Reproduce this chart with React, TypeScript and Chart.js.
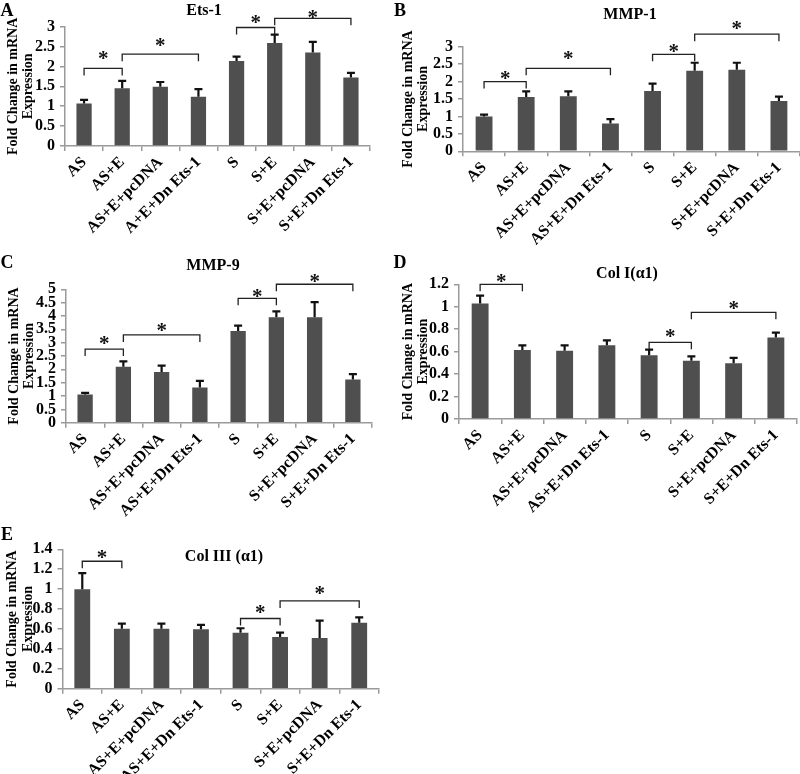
import React, { useEffect, useRef } from 'react';
import { Chart, registerables } from 'chart.js';

Chart.register(...registerables);

// ---------- data ----------
const CATEGORIES_A = ['AS', 'AS+E', 'AS+E+pcDNA', 'A+E+Dn Ets-1', 'S', 'S+E', 'S+E+pcDNA', 'S+E+Dn Ets-1'];
const CATEGORIES = ['AS', 'AS+E', 'AS+E+pcDNA', 'AS+E+Dn Ets-1', 'S', 'S+E', 'S+E+pcDNA', 'S+E+Dn Ets-1'];
const Y_TITLE = ['Fold Change in mRNA', 'Expression'];

const ETS1_MEAN = [1.07, 1.45, 1.49, 1.24, 2.14, 2.59, 2.35, 1.72];
const ETS1_SEM = [0.09, 0.19, 0.12, 0.19, 0.11, 0.21, 0.27, 0.12];
const ETS1_TICKS = [0, 0.5, 1, 1.5, 2, 2.5, 3];
// [from, to, bracket level, star level]
const ETS1_SIG = [[0, 1, 1.95, 2.29], [1, 3, 2.31, 2.61], [4, 5, 2.98, 3.19], [5, 7, 3.21, 3.32]];

const MMP1_MEAN = [1.0, 1.56, 1.58, 0.8, 1.73, 2.31, 2.34, 1.44];
const MMP1_SEM = [0.05, 0.16, 0.14, 0.12, 0.21, 0.23, 0.2, 0.13];
const MMP1_TICKS = [0, 0.5, 1, 1.5, 2, 2.5, 3];
const MMP1_SIG = [[0, 1, 2.0, 2.19], [1, 3, 2.38, 2.76], [4, 5, 2.78, 2.95], [5, 7, 3.36, 3.62]];

const MMP9_MEAN = [1.06, 2.1, 1.9, 1.32, 3.44, 3.95, 3.95, 1.62];
const MMP9_SEM = [0.06, 0.2, 0.24, 0.25, 0.2, 0.22, 0.57, 0.2];
const MMP9_TICKS = [0, 0.5, 1, 1.5, 2, 2.5, 3, 3.5, 4, 4.5, 5];
const MMP9_SIG = [[0, 1, 2.76, 3.1], [1, 3, 3.29, 3.57], [4, 5, 4.66, 4.87], [5, 7, 5.19, 5.42]];

const COL1_MEAN = [1.03, 0.615, 0.608, 0.656, 0.567, 0.52, 0.497, 0.725];
const COL1_SEM = [0.07, 0.041, 0.048, 0.044, 0.051, 0.038, 0.047, 0.045];
const COL1_TICKS = [0, 0.2, 0.4, 0.6, 0.8, 1, 1.2];
const COL1_SIG = [[0, 1, 1.2, 1.255], [4, 5, 0.683, 0.763], [5, 7, 0.95, 1.015]];

const COL3_MEAN = [1.0, 0.603, 0.603, 0.597, 0.563, 0.52, 0.51, 0.663];
const COL3_SEM = [0.16, 0.05, 0.05, 0.043, 0.044, 0.043, 0.173, 0.054];
const COL3_TICKS = [0, 0.2, 0.4, 0.6, 0.8, 1, 1.2, 1.4];
const COL3_SIG = [[0, 1, 1.28, 1.35], [4, 5, 0.705, 0.8], [5, 7, 0.882, 0.996]];

// ---------- layout (page pixels) ----------
const FONT = "'Liberation Serif', 'Times New Roman', serif";

type PanelCfg = {
  letter: string; title: string;
  cats: string[]; mean: number[]; sem: number[]; ticks: number[]; sig: number[][];
  canvas: { left: number; top: number; w: number; h: number };
  area: { l: number; t: number; r: number; b: number };
  titlePos: [number, number]; letterPos: [number, number]; yTitlePad: number;
};

const PANELS: PanelCfg[] = [
  {
    letter: 'A', title: 'Ets-1', cats: CATEGORIES_A, mean: ETS1_MEAN, sem: ETS1_SEM, ticks: ETS1_TICKS, sig: ETS1_SIG,
    canvas: { left: 0, top: 0, w: 395, h: 255 }, area: { l: 65, t: 26.7, r: 370, b: 146 },
    titlePos: [204, 10], letterPos: [7, 10], yTitlePad: 5.5,
  },
  {
    letter: 'B', title: 'MMP-1', cats: CATEGORIES, mean: MMP1_MEAN, sem: MMP1_SEM, ticks: MMP1_TICKS, sig: MMP1_SIG,
    canvas: { left: 395, top: 0, w: 405, h: 255 }, area: { l: 463, t: 46.7, r: 800, b: 151.3 },
    titlePos: [630, 14], letterPos: [400, 10], yTitlePad: 5.5,
  },
  {
    letter: 'C', title: 'MMP-9', cats: CATEGORIES, mean: MMP9_MEAN, sem: MMP9_SEM, ticks: MMP9_TICKS, sig: MMP9_SIG,
    canvas: { left: 0, top: 255, w: 395, h: 265 }, area: { l: 66, t: 289.3, r: 372, b: 422.7 },
    titlePos: [213, 265], letterPos: [7, 262], yTitlePad: 6.5,
  },
  {
    letter: 'D', title: 'Col I(\u03b11)', cats: CATEGORIES, mean: COL1_MEAN, sem: COL1_SEM, ticks: COL1_TICKS, sig: COL1_SIG,
    canvas: { left: 395, top: 255, w: 405, h: 265 }, area: { l: 459, t: 284.3, r: 797, b: 419 },
    titlePos: [627, 273], letterPos: [400, 262], yTitlePad: 5.5,
  },
  {
    letter: 'E', title: 'Col III (\u03b11)', cats: CATEGORIES, mean: COL3_MEAN, sem: COL3_SEM, ticks: COL3_TICKS, sig: COL3_SIG,
    canvas: { left: 0, top: 520, w: 395, h: 254 }, area: { l: 62.5, t: 549.3, r: 379, b: 688.7 },
    titlePos: [224, 556], letterPos: [7, 534], yTitlePad: 5,
  },
];

function Panel({ p }: { p: PanelCfg }) {
  const ref = useRef<HTMLCanvasElement>(null);
  useEffect(() => {
    const c = ref.current!;
    const { canvas, area } = p;
    const annot = {
      id: 'annot' + p.letter,
      afterDatasetsDraw(chart: any) {
        const ctx = chart.ctx;
        const meta = chart.getDatasetMeta(0);
        const xs = chart.scales.x;
        const ys = chart.scales.y;
        ctx.save();
        ctx.strokeStyle = '#111';
        ctx.lineWidth = 2.2;
        meta.data.forEach((el: any, i: number) => {
          const base = ys.getPixelForValue(p.mean[i]);
          const top = ys.getPixelForValue(p.mean[i] + p.sem[i]);
          ctx.beginPath();
          ctx.moveTo(el.x, base);
          ctx.lineTo(el.x, top);
          ctx.moveTo(el.x - 4, top);
          ctx.lineTo(el.x + 4, top);
          ctx.stroke();
        });
        ctx.lineWidth = 1.3;
        ctx.strokeStyle = '#222';
        ctx.fillStyle = '#111';
        ctx.font = `bold 21px ${FONT}`;
        ctx.textAlign = 'center';
        ctx.textBaseline = 'alphabetic';
        p.sig.forEach(([a, b, ly, sy]) => {
          const x1 = xs.getPixelForValue(a);
          const x2 = xs.getPixelForValue(b);
          const yy = ys.getPixelForValue(ly);
          ctx.beginPath();
          ctx.moveTo(x1, yy + 7);
          ctx.lineTo(x1, yy);
          ctx.lineTo(x2, yy);
          ctx.lineTo(x2, yy + 7);
          ctx.stroke();
          ctx.fillText('*', (x1 + x2) / 2, ys.getPixelForValue(sy) + 10);
        });
        ctx.restore();
      },
    };
    const axisColor = '#9a9a9a';
    const chart = new Chart(c, {
      type: 'bar',
      data: {
        labels: p.cats,
        datasets: [{ data: p.mean, backgroundColor: '#4f4f4f', borderWidth: 0, barPercentage: 0.4, categoryPercentage: 1 }],
      },
      plugins: [annot],
      options: {
        responsive: false,
        animation: false,
        layout: { padding: { top: area.t - canvas.top, right: canvas.left + canvas.w - area.r, left: 0, bottom: 0 } },
        plugins: { legend: { display: false }, tooltip: { enabled: false }, title: { display: false } },
        scales: {
          x: {
            grid: { display: true, drawOnChartArea: false, drawTicks: true, tickLength: 5, color: axisColor, lineWidth: 1.5, offset: true },
            border: { display: true, color: axisColor, width: 1.5 },
            ticks: {
              autoSkip: false, maxRotation: 45, minRotation: 45, color: '#000', padding: 2,
              font: { family: FONT, weight: 'bold', size: 16 },
            },
            afterFit: (s: any) => { s.height = canvas.top + canvas.h - area.b; },
          },
          y: {
            min: 0,
            max: p.ticks[p.ticks.length - 1],
            afterBuildTicks: (s: any) => { s.ticks = p.ticks.map((v) => ({ value: v })); },
            grid: { display: true, drawOnChartArea: false, drawTicks: true, tickLength: 5, color: axisColor, lineWidth: 1.5 },
            border: { display: true, color: axisColor, width: 1.5 },
            ticks: {
              autoSkip: false, color: '#000', padding: 5,
              font: { family: FONT, weight: 'bold', size: 16, lineHeight: 1 },
              callback: (v: any) => String(Number(Number(v).toFixed(2))),
            },
            title: {
              display: true, text: Y_TITLE, color: '#000',
              font: { family: FONT, weight: 'bold', size: 14, lineHeight: 1.1 },
              padding: { top: p.yTitlePad, bottom: 0 },
            },
            afterFit: (s: any) => { s.width = area.l - canvas.left; },
          },
        },
      } as any,
    });
    return () => chart.destroy();
  }, [p]);

  const textStyle: React.CSSProperties = {
    position: 'absolute', transform: 'translate(-50%, -50%)', fontFamily: FONT, fontWeight: 'bold',
    whiteSpace: 'nowrap', color: '#000', lineHeight: 1,
  };
  return (
    <>
      <canvas
        ref={ref}
        width={p.canvas.w}
        height={p.canvas.h}
        style={{ position: 'absolute', left: p.canvas.left, top: p.canvas.top, width: p.canvas.w, height: p.canvas.h }}
      />
      <div style={{ ...textStyle, left: p.titlePos[0], top: p.titlePos[1], fontSize: 16 }}>{p.title}</div>
      <div style={{ ...textStyle, left: p.letterPos[0], top: p.letterPos[1], fontSize: 18 }}>{p.letter}</div>
    </>
  );
}

export default function App() {
  return (
    <div style={{ position: 'absolute', left: 0, top: 0, width: 800, height: 774, background: '#fff', overflow: 'hidden' }}>
      {PANELS.map((p) => (
        <Panel key={p.letter} p={p} />
      ))}
    </div>
  );
}
